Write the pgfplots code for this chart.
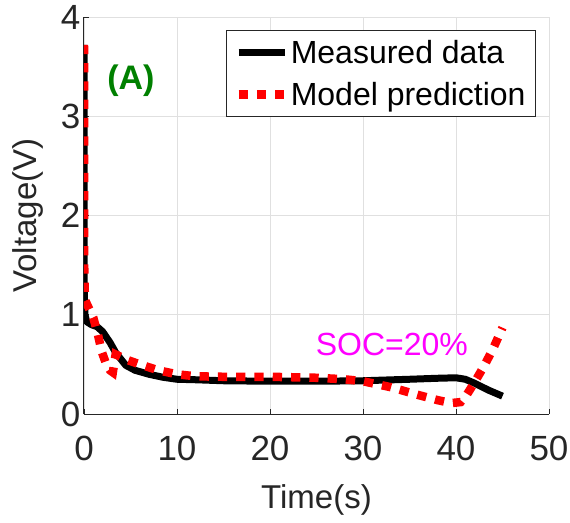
\documentclass[border=0pt]{standalone}
\usepackage{pgfplots}
\pgfplotsset{compat=1.18}
\usepackage{fontspec}
\setmainfont{Liberation Sans}
\usetikzlibrary{calc}
\definecolor{axgray}{rgb}{0.15,0.15,0.15}
\definecolor{gridgray}{rgb}{0.88,0.88,0.88}
\definecolor{mgreen}{rgb}{0,0.5,0}
\definecolor{mmag}{rgb}{1,0,1}
\begin{document}
\begin{tikzpicture}
\begin{axis}[
  name=ax,
  scale only axis,
  width=465pt, height=397pt,
  xmin=0, xmax=50, ymin=0, ymax=4,
  xtick={0,10,...,50}, ytick={0,1,2,3,4},
  axis x line*=bottom, axis y line*=left,
  x axis line style={-, axgray, line width=1pt},
  y axis line style={-, axgray, line width=1pt},
  tick align=inside, major tick length=5pt,
  tick style={axgray, line width=0.8pt},
  grid=major,
  major grid style={gridgray, line width=0.8pt},
  /pgf/number format/assume math mode=true,
  tick label style={font=\fontsize{35}{42}\selectfont, text=axgray},
  xticklabel style={yshift=-19pt},
  xlabel={Time(s)}, ylabel={Voltage(V)},
  every axis x label/.style={at={(axis description cs:0.5,-0.2368)}, anchor=base},
  every axis y label/.style={at={(axis description cs:-0.1011,0.5)}, anchor=base, rotate=90},
  label style={font=\fontsize{33}{40}\selectfont, text=axgray},
  legend style={at={(0.972,0.967)}, anchor=north east, draw=axgray, line width=0.8pt,
    fill=white, font=\fontsize{32}{38}\selectfont, inner sep=8pt, row sep=13pt},
  legend cell align=left,
  legend image code/.code={\draw[#1] (0pt,0pt) -- (46pt,0pt);},
]
\addplot[black, line width=7pt, line join=round] coordinates {
(0,3.72) (0.01,2.0) (0.03,1.2) (0.1,1.0) (0.3,0.93) (0.8,0.9) (1.4,0.88)
(2.0,0.83) (2.8,0.72) (3.4,0.62) (3.9,0.56) (4.5,0.49) (5.5,0.44) (7,0.40)
(8.5,0.37) (10,0.35) (12,0.345) (15,0.335) (20,0.33) (25,0.33) (30,0.335)
(35,0.35) (38,0.36) (40,0.365) (41,0.35) (42,0.31) (43.5,0.24) (45,0.18)
};
\addlegendentry{Measured data}
\addplot[red, line width=8.5pt, line cap=butt, dash pattern=on 9.3pt off 9pt] coordinates {
(0,3.72) (0.02,1.5) (0.1,1.15) (0.6,1.05) (1.0,0.97) (1.5,0.80) (1.9,0.63)
(2.4,0.50) (2.8,0.44) (3.1,0.42) (3.4,0.60) (4.5,0.55) (6,0.50) (8,0.44)
(10,0.40) (12,0.38) (15,0.375) (20,0.375) (25,0.365) (28,0.35) (30,0.33)
(33,0.27) (36,0.19) (38,0.14) (39.5,0.11) (40.5,0.12) (41.2,0.20) (42,0.32)
(43,0.48) (44,0.66) (45,0.87)
};
\addlegendentry{Model prediction}
\node[text=mgreen, font=\fontsize{34}{40}\selectfont\bfseries] at (axis cs:5.05,3.355) {(A)};
\node[text=mmag, font=\fontsize{32}{38}\selectfont] at (axis cs:33.1,0.70) {SOC=20\%};
\end{axis}
\pgfresetboundingbox
\path ($(ax.south west)+(-84pt,-108pt)$) rectangle ($(ax.south west)+(486pt,414pt)$);
\end{tikzpicture}
\end{document}
